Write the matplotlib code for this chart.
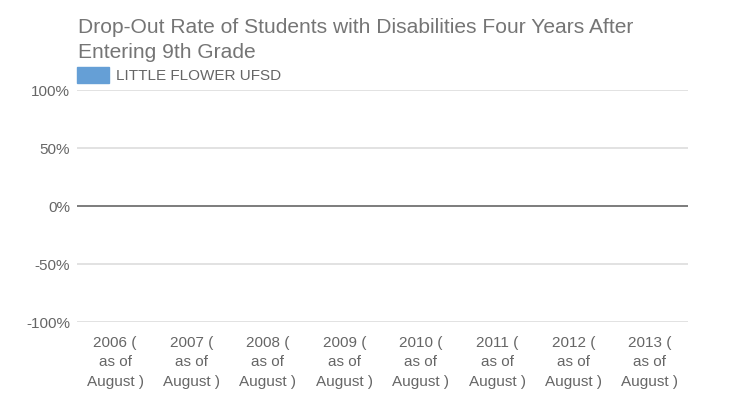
import numpy as np
import matplotlib.pyplot as plt
from matplotlib.patches import Rectangle

plt.rcParams['font.family'] = ['Liberation Sans', 'DejaVu Sans']

# data
years = ["2006", "2007", "2008", "2009", "2010", "2011", "2012", "2013"]
labels = ["%s (\nas of\nAugust )" % y for y in years]
dropout = [0, 0, 0, 0, 0, 0, 0, 0]
series_name = "LITTLE FLOWER UFSD"
yticks = [-100, -50, 0, 50, 100]

fig = plt.figure(figsize=(7.51, 4.12), dpi=100)
ax = fig.add_axes([77/751, 1-322/412, (688-77)/751, (322-90)/412])

x = np.arange(len(years))
ax.bar(x, dropout, width=0.6, color='#659fd6', zorder=3)

ax.set_xlim(-0.5, len(years)-0.5)
ax.set_ylim(-100, 100)
ax.set_yticks(yticks)
ax.set_yticklabels(["%d%%" % v for v in yticks], color='#666666', fontsize=11)
ax.set_xticks(x)
ax.set_xticklabels(labels, color='#666666', fontsize=11, linespacing=1.5)
ax.tick_params(length=0, pad=5)
ax.tick_params(axis='x', pad=10)

for v in yticks:
    if v == 0:
        ax.axhline(v, color='#666666', lw=1.2, zorder=4)
    else:
        ax.axhline(v, color='#dddddd', lw=1.2, zorder=1)

for s in ax.spines.values():
    s.set_visible(False)

fig.text(78/751, 1-40/412, "Drop-Out Rate of Students with Disabilities Four Years After\nEntering 9th Grade",
         fontsize=15.1, color='#757575', va='center', ha='left', linespacing=1.35)
fig.patches.append(Rectangle((77/751, 1-83/412), 32/751, 16/412, transform=fig.transFigure,
                             color='#659fd6', figure=fig))
fig.text(116/751, 1-76/412, series_name, fontsize=11, color='#666666', va='center', ha='left')

fig.savefig("out.png", dpi=100)
